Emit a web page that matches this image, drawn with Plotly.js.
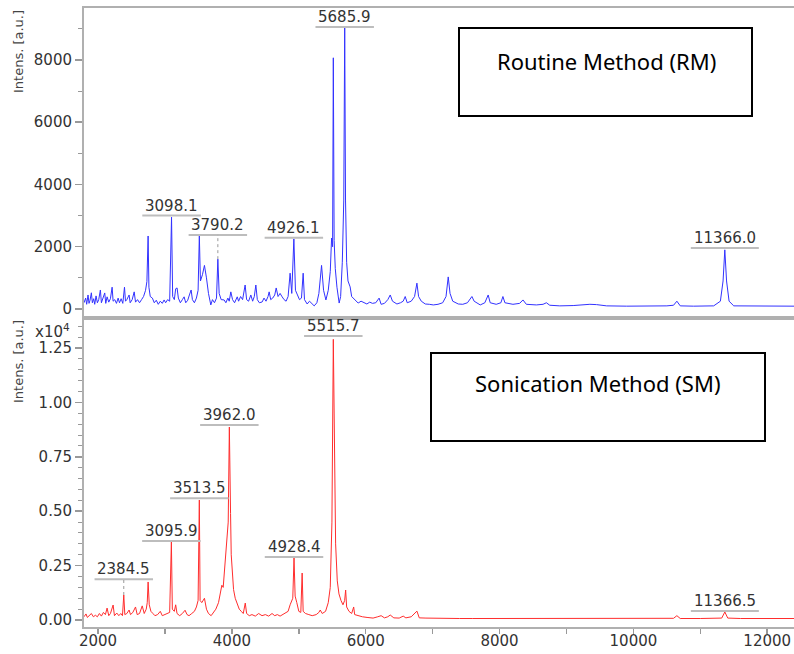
<!DOCTYPE html>
<html>
<head>
<meta charset="utf-8">
<script src="https://cdn.plot.ly/plotly-3.0.1.min.js"></script>
<style>html,body{margin:0;padding:0;background:#fff;}#chart{width:794px;height:654px;}</style>
</head>
<body>
<div id="chart"></div>
<script>
// ---------- DATA ----------
// Routine Method (RM) spectrum: m/z and intensity (a.u.)
const rmMz = [1790,1815,1830,1850,1865,1880,1900,1915,1935,1950,1970,1990,2010,2035,2050,2070,2100,2115,2135,2160,2185,2210,2225,2250,2275,2300,2320,2345,2370,2395,2410,2430,2464,2480,2510,2540,2560,2590,2620,2650,2680,2710,2730,2748,2760,2780,2812,2840,2870,2900,2930,2960,2987,3010,3040,3070,3098.1,3115,3140,3160,3181,3200,3230,3260,3286,3310,3340,3365,3391,3410,3440,3470,3495,3513.5,3530,3560,3590,3620,3650,3685,3710,3740,3770,3790.2,3810,3840,3884,3910,3940,3960,3984,4010,4040,4080,4100,4130,4160,4198,4220,4250,4283,4310,4335,4358,4380,4410,4452,4480,4510,4540,4557,4580,4610,4640,4662,4690,4720,4751,4780,4810,4840,4870,4895,4926.1,4950,4980,5010,5040,5065,5085,5125,5160,5200,5230,5270,5300,5340,5370,5405,5440,5470,5490,5505,5515.7,5528,5545,5570,5603,5625,5650,5672,5685.9,5698,5715,5735,5767,5790,5830,5887,5930,5970,6017,6060,6100,6150,6200,6230,6280,6330,6366,6400,6430,6466,6520,6560,6590,6620,6680,6730,6765,6790,6830,6890,6950,7010,7080,7150,7200,7233,7260,7300,7383,7450,7520,7560,7587,7620,7711,7780,7830,7860,7950,8020,8050,8080,8200,8300,8350,8400,8550,8650,8700,8750,8900,9100,9250,9350,9450,9600,9900,10200,10500,10600,10650,10700,10900,11200,11300,11340,11366,11392,11430,11500,11800,12100,12400];
const rmInt = [200,350,150,450,180,280,520,200,330,150,420,200,300,610,200,350,515,180,390,220,330,700,250,300,180,350,200,330,180,700,250,300,450,200,300,550,220,300,200,300,400,600,880,2345,700,400,350,200,280,150,250,180,290,200,300,250,2950,400,300,650,675,350,200,300,390,200,280,450,610,300,200,350,600,2345,900,1100,1400,1000,500,130,300,200,350,1600,500,300,290,200,350,250,550,300,200,390,250,400,300,770,300,250,450,250,400,770,300,200,225,350,250,400,550,300,350,450,675,400,500,390,300,250,400,1150,500,2250,600,450,300,350,1150,300,160,250,150,100,200,500,1400,600,290,600,1200,2280,2000,8070,2200,1300,700,190,400,1500,3500,9050,3500,1500,900,710,400,300,190,250,200,160,220,180,200,350,150,180,300,450,250,200,160,200,250,400,200,250,400,830,400,250,160,150,130,150,200,400,1030,500,250,160,150,200,300,400,250,130,200,450,200,150,200,400,200,150,180,290,150,130,150,200,120,100,110,140,150,140,100,90,90,100,120,250,100,90,100,250,900,1900,900,250,100,90,90,90];

// Sonication Method (SM) spectrum: m/z and intensity (a.u.)
const smMz = [1790,1820,1840,1870,1900,1930,1960,1990,2020,2050,2080,2110,2135,2160,2185,2225,2245,2280,2310,2340,2365,2384.5,2400,2430,2464,2485,2520,2560,2585,2620,2660,2690,2720,2735,2748,2765,2790,2820,2850,2890,2930,2960,3000,3040,3070,3095.9,3110,3140,3160,3180,3220,3260,3300,3330,3360,3400,3440,3470,3495,3513.5,3525,3550,3590,3620,3650,3690,3720,3760,3800,3830,3850,3870,3890,3910,3930,3945,3962,3970,3980,3990,4005,4025,4050,4080,4110,4140,4170,4200,4220,4260,4300,4350,4400,4450,4500,4550,4600,4640,4680,4720,4760,4800,4840,4870,4895,4910,4928.4,4945,4970,5000,5030,5050,5065,5100,5150,5200,5260,5300,5320,5350,5400,5440,5470,5495,5515.7,5525,5535,5550,5575,5600,5630,5660,5685,5700,5715,5750,5790,5820,5835,5880,5950,6020,6110,6180,6230,6280,6330,6366,6420,6500,6560,6600,6680,6765,6800,6900,7000,7200,7400,7600,8000,8500,9000,9500,10000,10500,10600,10650,10700,11000,11320,11366.5,11410,11600,12000,12400];
const smInt = [150,280,120,200,300,150,220,150,300,180,350,250,550,200,300,690,200,320,200,300,200,1150,250,300,460,250,350,600,250,300,650,300,500,800,1750,700,400,300,200,250,400,200,250,300,350,3585,500,400,700,300,200,300,450,250,200,300,400,600,900,5515,900,800,1000,500,300,200,350,500,800,1300,1600,1500,2300,2700,3500,4500,8870,5000,4900,3000,2000,1400,1000,700,500,400,300,780,300,200,250,180,300,200,250,180,300,200,250,180,250,300,400,700,900,1000,2850,1100,800,400,350,2160,400,300,250,200,250,350,460,300,400,800,1500,4500,12900,10000,6000,3500,1800,1200,900,700,900,1380,600,400,300,600,250,200,150,120,90,150,200,100,150,230,100,90,180,100,150,410,100,90,80,80,70,70,70,70,70,70,70,70,80,200,70,70,90,370,90,70,70,70];

// Peak labels
const rmLabelMz   = [3098.1, 3790.2, 4926.1, 5685.9, 11366.0];
const rmLabelText = ["3098.1", "3790.2", "4926.1", "5685.9", "11366.0"];
const rmLabelLevel= [3000, 2380, 2290, 9060, 1960];
const rmPeakTop   = [2950, 1600, 2250, 9050, 1900];

const smLabelMz   = [2384.5, 3095.9, 3513.5, 3962.0, 4928.4, 5515.7, 11366.5];
const smLabelText = ["2384.5", "3095.9", "3513.5", "3962.0", "4928.4", "5515.7", "11366.5"];
const smLabelLevel= [1880, 3630, 5600, 8960, 2900, 13050, 410];
const smPeakTop   = [1150, 3585, 5515, 8870, 2850, 12900, 370];

// Axis ticks
const xTickVals = [2000, 4000, 6000, 8000, 10000, 12000];
const xTickText = ["2000", "4000", "6000", "8000", "10000", "12000"];
const rmYTickVals = [0, 2000, 4000, 6000, 8000];
const rmYTickText = ["0", "2000", "4000", "6000", "8000"];
const smYTickVals = [0, 2500, 5000, 7500, 10000, 12500];
const smYTickText = ["0.00", "0.25", "0.50", "0.75", "1.00", "1.25"];

const panelTitles = ["Routine Method (RM)", "Sonication Method (SM)"];
const yTitle = "Intens. [a.u.]";

// ---------- LAYOUT HELPERS ----------
const W = 794, H = 654;
const L = 84, R = 794, T = 8, B = 627;
const X_RANGE = [1790, 12400];
const px2x = p => (p - L) / (R - L);
const py2y = p => (B - p) / (B - T);
const pxPerUnit = (R - L) / (X_RANGE[1] - X_RANGE[0]);

const tickFont = {family: "DejaVu Sans, Arial, sans-serif", size: 15, color: "#333"};
const lblFont = {family: "DejaVu Sans, Arial, sans-serif", size: 15, color: "#333"};
const axisLine = "#b0b0b0";

function range(a, b, s) { const r = []; for (let v = a; v <= b + 1e-9; v += s) r.push(v); return r; }

const traces = [
  {x: rmMz, y: rmInt, xaxis: "x2", yaxis: "y2", type: "scatter", mode: "lines",
   line: {color: "rgb(50,50,255)", width: 1}, hoverinfo: "skip"},
  {x: smMz, y: smInt, xaxis: "x", yaxis: "y", type: "scatter", mode: "lines",
   line: {color: "rgb(255,45,45)", width: 1}, hoverinfo: "skip"}
];

const shapes = [];
const annotations = [];

function textWidth(s) {
  let w = 0;
  for (const c of s) w += (c === ".") ? 0.318 : 0.636;
  return w * lblFont.size;
}

function addLabels(mzs, texts, levels, tops, xr, yr) {
  mzs.forEach((mz, i) => {
    const hw = (textWidth(texts[i]) + 6) / 2 / pxPerUnit;
    shapes.push({type: "line", xref: xr, yref: yr, x0: mz - hw, x1: mz + hw,
      y0: levels[i], y1: levels[i], line: {color: "#bdbdbd", width: 2}});
    if (levels[i] - tops[i] > 300) {
      shapes.push({type: "line", xref: xr, yref: yr, x0: mz, x1: mz,
        y0: tops[i], y1: levels[i], line: {color: "#999", width: 1, dash: "dot"}});
    }
    annotations.push({xref: xr, yref: yr, x: mz, y: levels[i], text: texts[i],
      showarrow: false, xanchor: "center", yanchor: "bottom", yshift: -1, font: lblFont});
  });
}
addLabels(rmLabelMz, rmLabelText, rmLabelLevel, rmPeakTop, "x2", "y2");
addLabels(smLabelMz, smLabelText, smLabelLevel, smPeakTop, "x", "y");

// Method boxes
shapes.push({type: "rect", xref: "paper", yref: "paper", x0: px2x(459), x1: px2x(752),
  y0: py2y(116), y1: py2y(28), line: {color: "#000", width: 2}, fillcolor: "rgba(0,0,0,0)"});
shapes.push({type: "rect", xref: "paper", yref: "paper", x0: px2x(431), x1: px2x(765),
  y0: py2y(441), y1: py2y(353), line: {color: "#000", width: 2}, fillcolor: "rgba(0,0,0,0)"});
const boxFont = {family: "Noto Sans, Open Sans, sans-serif", size: 22, color: "#000"};
annotations.push({xref: "paper", yref: "paper", x: px2x(606), y: py2y(61), text: panelTitles[0],
  showarrow: false, xanchor: "center", yanchor: "middle", font: boxFont});
annotations.push({xref: "paper", yref: "paper", x: px2x(598), y: py2y(383), text: panelTitles[1],
  showarrow: false, xanchor: "center", yanchor: "middle", font: boxFont});

// Y titles and exponent
const yTitleFont = {family: "DejaVu Sans, Arial, sans-serif", size: 13, color: "#444"};
annotations.push({xref: "paper", yref: "paper", x: px2x(18), y: py2y(52), text: yTitle,
  textangle: -90, showarrow: false, xanchor: "center", yanchor: "middle", font: yTitleFont});
annotations.push({xref: "paper", yref: "paper", x: px2x(18), y: py2y(362), text: yTitle,
  textangle: -90, showarrow: false, xanchor: "center", yanchor: "middle", font: yTitleFont});
annotations.push({xref: "paper", yref: "paper", x: px2x(72), y: py2y(331), text: "x10<sup>4</sup>",
  showarrow: false, xanchor: "right", yanchor: "middle", font: tickFont});

const split = py2y(318);

const layout = {
  width: W, height: H,
  margin: {l: L, r: W - R, t: T, b: H - B, pad: 0},
  paper_bgcolor: "#fff", plot_bgcolor: "#fff",
  showlegend: false,
  xaxis: {domain: [0, 1], anchor: "y", range: X_RANGE, tickmode: "array",
    tickvals: xTickVals, ticktext: xTickText, ticks: "outside", ticklen: 5, tickwidth: 1.5,
    ticklabelstandoff: -6,
    tickcolor: "#999", minor: {tickmode: "array", tickvals: range(3000, 11000, 2000), ticks: "outside", ticklen: 5, tickwidth: 1.5, tickcolor: "#999", showgrid: false},
    showline: true, linecolor: axisLine, linewidth: 2, mirror: true,
    showgrid: false, zeroline: false, tickfont: tickFont},
  xaxis2: {domain: [0, 1], anchor: "y2", range: X_RANGE, matches: "x", showticklabels: false,
    ticks: "", showline: true, linecolor: axisLine, linewidth: 2, mirror: true,
    showgrid: false, zeroline: false},
  yaxis: {domain: [0, split], anchor: "x", range: [-320, 13880], tickmode: "array",
    tickvals: smYTickVals, ticktext: smYTickText, ticks: "outside", ticklen: 7, tickwidth: 1.5,
    tickcolor: "#999", minor: {tickmode: "array", tickvals: range(500, 13500, 500).filter(v => v % 2500 !== 0), ticks: "outside", ticklen: 4, tickwidth: 1, tickcolor: "#999", showgrid: false},
    showline: true, linecolor: axisLine, linewidth: 2,
    showgrid: false, zeroline: false, tickfont: tickFont},
  yaxis2: {domain: [split, 1], anchor: "x2", range: [-290, 9670], tickmode: "array",
    tickvals: rmYTickVals, ticktext: rmYTickText, ticks: "outside", ticklen: 7, tickwidth: 1.5,
    tickcolor: "#999", minor: {tickmode: "array", tickvals: range(1000, 9000, 2000), ticks: "outside", ticklen: 4, tickwidth: 1, tickcolor: "#999", showgrid: false},
    showline: true, linecolor: axisLine, linewidth: 2,
    showgrid: false, zeroline: false, tickfont: tickFont},
  shapes: shapes,
  annotations: annotations
};

Plotly.newPlot("chart", traces, layout, {staticPlot: true, displayModeBar: false});
</script>
</body>
</html>
